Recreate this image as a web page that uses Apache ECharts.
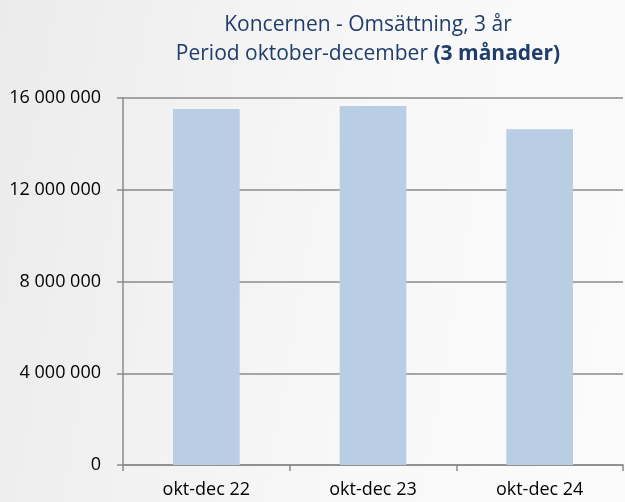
<!DOCTYPE html>
<html>
<head>
<meta charset="utf-8">
<script src="https://cdn.jsdelivr.net/npm/echarts@6/dist/echarts.min.js"></script>
<style>
  html, body { margin: 0; padding: 0; }
  #chart { width: 625px; height: 502px;
    background: linear-gradient(100deg, #ebebeb 0%, #f3f3f3 35%, #f8f8f8 60%, #fbfbfb 100%); }
</style>
</head>
<body>
<div id="chart"></div>
<script>
// kategorier och omsättning (kr)
var categories = ['okt-dec 22', 'okt-dec 23', 'okt-dec 24'];
var omsattning = [15520000, 15650000, 14640000];
var yTicks = [0, 4000000, 8000000, 12000000, 16000000];

var myChart = echarts.init(document.getElementById('chart'), null, {renderer: 'canvas'});

function fmt(v) {
    return String(v).replace(/\B(?=(\d{3})+(?!\d))/g, ' ');
}

myChart.setOption({
    backgroundColor: 'transparent',
    textStyle: { fontFamily: '"Open Sans", sans-serif' },
    title: {
        text: 'Koncernen - Omsättning, 3 år\nPeriod oktober-december {b|(3 månader)}',
        left: 363,
        top: 6,
        textAlign: 'center',
        textStyle: {
            color: '#1f3d6b',
            fontSize: 21,
            fontWeight: 'normal',
            lineHeight: 29,
            fontFamily: '"Open Sans", sans-serif',
            rich: {
                b: { fontSize: 21, fontWeight: 'bold', color: '#1f3d6b', lineHeight: 29,
                     fontFamily: '"Open Sans", sans-serif' }
            }
        }
    },
    grid: {
        left: 123,
        right: 2,
        top: 98,
        bottom: 37,
        containLabel: false
    },
    xAxis: {
        type: 'category',
        data: categories,
        axisLine: { lineStyle: { color: '#8a8a8a', width: 1.5 } },
        axisTick: { show: true, length: 6, alignWithLabel: false, lineStyle: { color: '#8a8a8a', width: 1.5 } },
        axisLabel: { color: '#000', fontSize: 18, margin: 16 }
    },
    yAxis: {
        type: 'value',
        min: yTicks[0],
        max: yTicks[yTicks.length - 1],
        interval: yTicks[1] - yTicks[0],
        axisLine: { show: true, lineStyle: { color: '#8a8a8a', width: 1.5 } },
        axisTick: { show: true, length: 6, lineStyle: { color: '#8a8a8a', width: 1.5 } },
        splitLine: { show: true, lineStyle: { color: '#8a8a8a', width: 1.5 } },
        axisLabel: { color: '#000', fontSize: 18, margin: 22, formatter: fmt }
    },
    series: [{
        type: 'bar',
        data: omsattning,
        barWidth: '40%',
        itemStyle: { color: '#b9cde5' }
    }]
});
</script>
</body>
</html>
